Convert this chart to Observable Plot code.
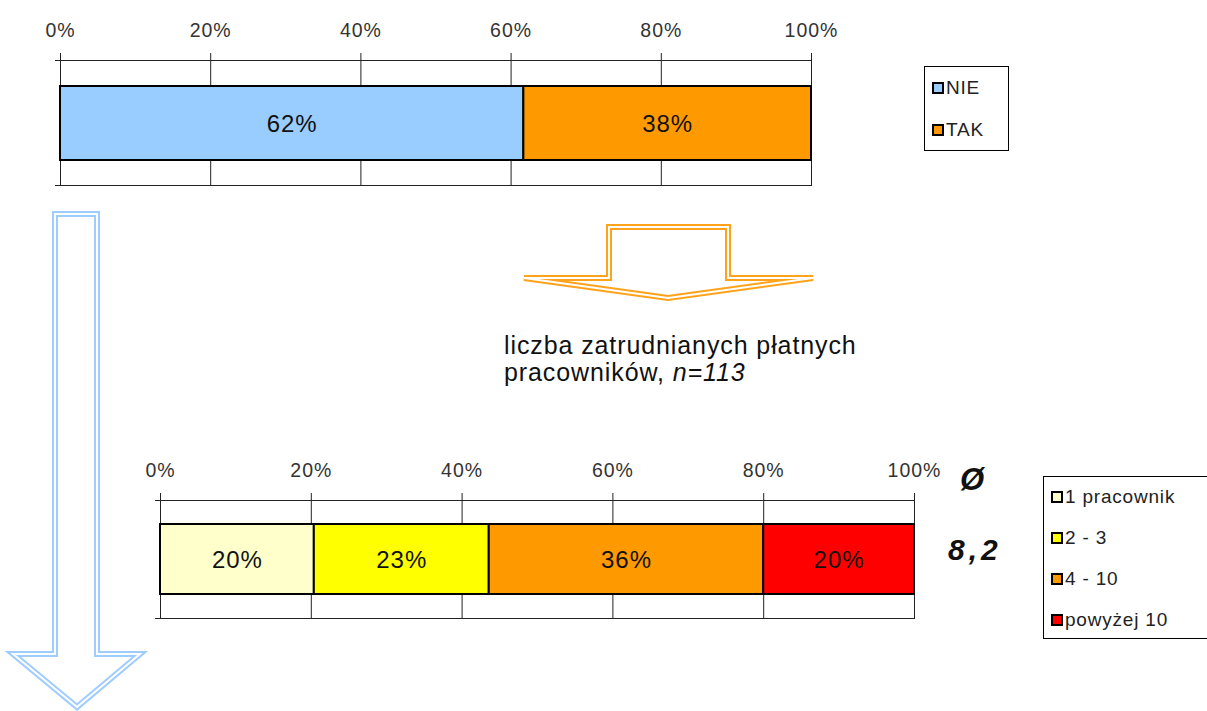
<!DOCTYPE html>
<html>
<head>
<meta charset="utf-8">
<script src="https://cdn.jsdelivr.net/npm/d3@7"></script>
<script src="https://cdn.jsdelivr.net/npm/@observablehq/plot@0.6"></script>
<style>
  body { margin: 0; background: #fff; font-family: "Liberation Sans", Arial, sans-serif; }
  #root { position: relative; width: 1207px; height: 711px; overflow: hidden; background: #fff; }
  .abs { position: absolute; }
  .legend { position: absolute; border: 1px solid #000; background: #fff; box-sizing: border-box; font-size: 19px; color: #222; letter-spacing: 0.8px; }
  .legend .item { position: absolute; left: 7px; display: flex; align-items: center; white-space: nowrap; }
  .legend .sw { width: 8px; height: 8px; border: 2px solid #000; margin-right: 2px; }
</style>
</head>
<body>
<div id="root"></div>
<script>
// ---- data ----
const topCats = ["NIE", "TAK"];
const topValues = [61.7, 38.3];
const topColors = ["#99CCFF", "#FF9900"];

const botCats = ["1 pracownik", "2 - 3", "4 - 10", "powyżej 10"];
const botValues = [20.4, 23.2, 36.4, 20.0];
const botColors = ["#FFFFCC", "#FFFF00", "#FF9900", "#FF0000"];

const xTicks = [0, 20, 40, 60, 80, 100];
const captionLine1 = "liczba zatrudnianych płatnych";
const captionLine2 = "pracowników, ";
const captionN = "n=113";
const avgSymbol = "Ø";
const avgValue = "8,2";

const root = document.getElementById("root");
const FONT = '"Liberation Sans", Arial, sans-serif';

// ---- decorative arrows ----
const ns = "http://www.w3.org/2000/svg";
const deco = document.createElementNS(ns, "svg");
deco.setAttribute("width", 1207); deco.setAttribute("height", 711);
deco.setAttribute("class", "abs"); deco.style.left = "0px"; deco.style.top = "0px";
function dbl(points, color, outer, inner) {
  const d = "M" + points.map(p => p.join(",")).join("L") + "Z";
  const a = document.createElementNS(ns, "path");
  a.setAttribute("d", d); a.setAttribute("fill", "none"); a.setAttribute("stroke", color);
  a.setAttribute("stroke-width", outer); a.setAttribute("stroke-linejoin", "miter");
  const b = document.createElementNS(ns, "path");
  b.setAttribute("d", d); b.setAttribute("fill", "none"); b.setAttribute("stroke", "#fff");
  b.setAttribute("stroke-width", inner); b.setAttribute("stroke-linejoin", "miter");
  deco.appendChild(a); deco.appendChild(b);
}
// orange arrow
dbl([[609,227],[728,227],[728,278],[813,278],[668,298],[524,278],[609,278]], "#FFA31A", 6, 2);
// blue arrow
dbl([[55,214],[97,214],[97,654],[140,654],[77,707],[13,654],[55,654]], "#9FCDFF", 6, 2);
root.appendChild(deco);

// ---- bar charts ----
function barChart(cats, values, colors, o) {
  const data = cats.map((c, i) => ({cat: c, value: values[i]}));
  const svg = Plot.plot({
    width: o.width, height: o.height,
    marginLeft: o.ml, marginRight: o.mr, marginTop: o.mt, marginBottom: o.mb,
    style: {background: "transparent", fontFamily: FONT, color: "#000", overflow: "visible", letterSpacing: "1px"},
    x: {domain: [0, 100], axis: null, label: null},
    y: {domain: ["r"], axis: null, padding: 0, label: null},
    color: {domain: cats, range: colors},
    marks: [
      Plot.ruleX(xTicks, {x: d => d, stroke: "#222", strokeWidth: 1, insetTop: -7}),
      Plot.frame({anchor: "top", stroke: "#222", strokeWidth: 1, insetLeft: -5}),
      Plot.frame({anchor: "bottom", stroke: "#222", strokeWidth: 1, insetLeft: -5}),
      Plot.barX(data, Plot.stackX({x: "value", y: () => "r", fill: "cat", stroke: "#000", strokeWidth: 2,
        insetTop: o.it, insetBottom: o.ib})),
      Plot.textX(data, Plot.stackX({x: "value", y: () => "r", text: d => Math.round(d.value) + "%",
        fontSize: 24, fill: "#111", dy: 1})),
      Plot.axisX(xTicks, {anchor: "top", tickSize: 0, tickPadding: 24, tickFormat: d => d + "%",
        fontSize: 19.5, fill: "#333", label: null})
    ]
  });
  svg.classList.add("abs");
  svg.style.left = o.left + "px"; svg.style.top = o.top + "px";
  root.appendChild(svg);
}
barChart(topCats, topValues, topColors, {left: 0, top: 0, width: 870, height: 200, ml: 60, mr: 59, mt: 60, mb: 15, it: 26, ib: 25});
barChart(botCats, botValues, botColors, {left: 0, top: 440, width: 970, height: 193, ml: 160, mr: 56, mt: 60, mb: 15, it: 24, ib: 24});

// ---- legends ----
function legend(cats, colors, o) {
  const box = document.createElement("div");
  box.className = "legend";
  Object.assign(box.style, {left: o.left + "px", top: o.top + "px", width: o.w + "px", height: o.h + "px"});
  cats.forEach((c, i) => {
    const it = document.createElement("div");
    it.className = "item";
    it.style.top = (o.first + i * o.step - 10) + "px";
    it.style.height = "20px";
    const sw = document.createElement("div"); sw.className = "sw"; sw.style.background = colors[i];
    const t = document.createElement("span"); t.textContent = c;
    it.appendChild(sw); it.appendChild(t);
    box.appendChild(it);
  });
  root.appendChild(box);
}
legend(topCats, topColors, {left: 924, top: 66, w: 85, h: 85, first: 21, step: 42});
legend(botCats, botColors, {left: 1043, top: 476, w: 175, h: 163, first: 20, step: 41});

// ---- texts ----
const cap = document.createElement("div");
cap.className = "abs";
Object.assign(cap.style, {left: "504px", top: "332px", fontSize: "25px", lineHeight: "27px", color: "#111", whiteSpace: "nowrap", letterSpacing: "0.9px"});
cap.innerHTML = captionLine1 + "<br>" + captionLine2 + "<i>" + captionN + "</i>";
root.appendChild(cap);

const avg1 = document.createElement("div");
avg1.className = "abs";
Object.assign(avg1.style, {left: "960px", top: "462px", fontSize: "31px", fontWeight: "bold", fontStyle: "italic", color: "#111"});
avg1.textContent = avgSymbol;
root.appendChild(avg1);

const avg2 = document.createElement("div");
avg2.className = "abs";
Object.assign(avg2.style, {left: "948px", top: "533px", fontSize: "30px", fontWeight: "bold", fontStyle: "italic", color: "#111", letterSpacing: "4px"});
avg2.textContent = avgValue;
root.appendChild(avg2);
</script>
</body>
</html>
